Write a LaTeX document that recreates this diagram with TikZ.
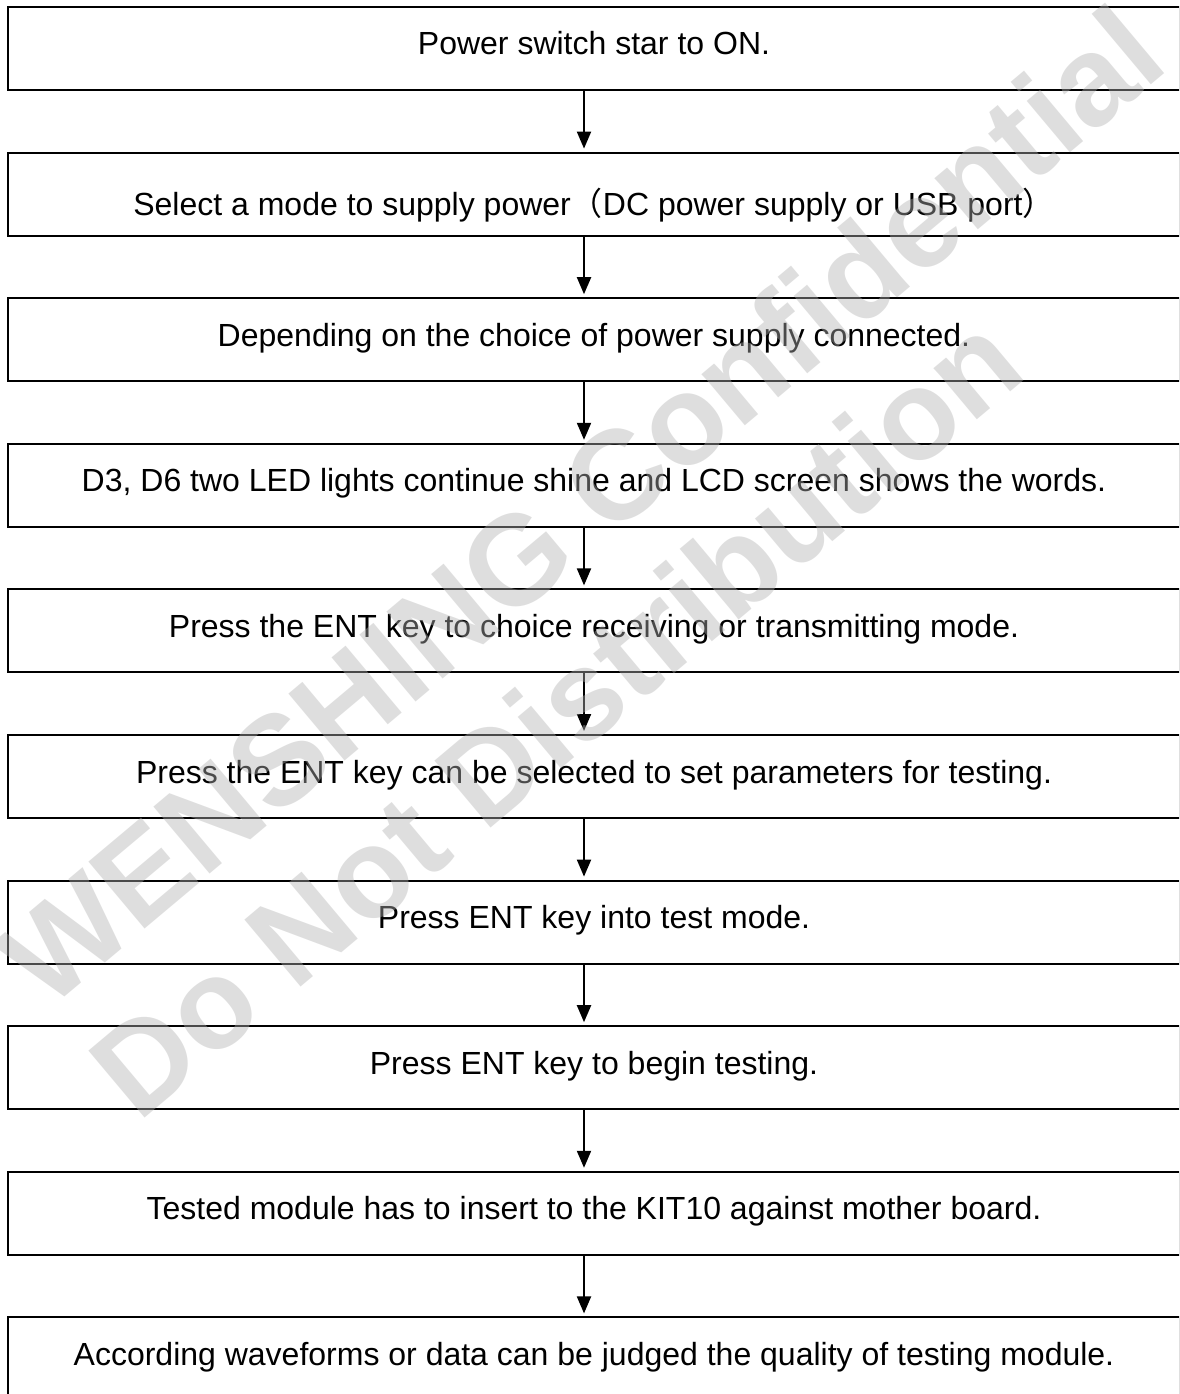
\documentclass[tikz,border=0pt]{standalone}
\usepackage{fontspec}
\setmainfont{Liberation Sans}
\newfontfamily\cjk{Noto Sans CJK SC}
\usepackage{tikz}
\usetikzlibrary{positioning,arrows.meta}
\tikzstyle{stepbox}=[draw, line width=2pt, minimum width=1172pt, minimum height=83pt, inner sep=0pt, text height=25pt, text depth=12pt, font=\fontsize{32}{38}\selectfont]
\tikzstyle{flow}=[line width=2pt, -{Triangle[length=17pt,width=14pt]}, shorten >=3pt]
\tikzstyle{wmark}=[rotate=40, inner sep=0pt, font=\fontsize{127}{130}\selectfont\bfseries, text=black!30, text opacity=0.42]

\begin{document}
\begin{tikzpicture}[x=1pt, y=-1pt]
				\clip (0, 0) rectangle (1179, 1394);
				\fill[white] (0, 0) rectangle (1179, 1394);
				\node[stepbox] (s1) at (594, 48.5) {Power switch star to ON.};
				\node[stepbox, text height=45pt, text depth=2pt] (s2) at (594, 194.1) {Select a mode to supply power{\cjk （}DC power supply or USB port{\cjk ）}};
				\node[stepbox] (s3) at (594, 339.7) {Depending on the choice of power supply connected.};
				\node[stepbox] (s4) at (594, 485.3) {D3, D6 two LED lights continue shine and LCD screen shows the words.};
				\node[stepbox] (s5) at (594, 630.9) {Press the ENT key to choice receiving or transmitting mode.};
				\node[stepbox] (s6) at (594, 776.5) {Press the ENT key can be selected to set parameters for testing.};
				\node[stepbox] (s7) at (594, 922.1) {Press ENT key into test mode.};
				\node[stepbox] (s8) at (594, 1067.7) {Press ENT key to begin testing.};
				\node[stepbox] (s9) at (594, 1213.3) {Tested module has to insert to the KIT10 against mother board.};
				\node[stepbox] (s10) at (594, 1358.9) {According waveforms or data can be judged the quality of testing module.};
				\draw[flow] ([xshift=-10pt]s1.south) -- ([xshift=-10pt]s2.north);
				\draw[flow] ([xshift=-10pt]s2.south) -- ([xshift=-10pt]s3.north);
				\draw[flow] ([xshift=-10pt]s3.south) -- ([xshift=-10pt]s4.north);
				\draw[flow] ([xshift=-10pt]s4.south) -- ([xshift=-10pt]s5.north);
				\draw[flow] ([xshift=-10pt]s5.south) -- ([xshift=-10pt]s6.north);
				\draw[flow] ([xshift=-10pt]s6.south) -- ([xshift=-10pt]s7.north);
				\draw[flow] ([xshift=-10pt]s7.south) -- ([xshift=-10pt]s8.north);
				\draw[flow] ([xshift=-10pt]s8.south) -- ([xshift=-10pt]s9.north);
				\draw[flow] ([xshift=-10pt]s9.south) -- ([xshift=-10pt]s10.north);
				% watermark
				\node[wmark] (w1) at (580, 505) {WENSHING Confidential};
				\node[wmark] (w2) at (555, 715) {Do Not Distribution};
\end{tikzpicture}
\end{document}
